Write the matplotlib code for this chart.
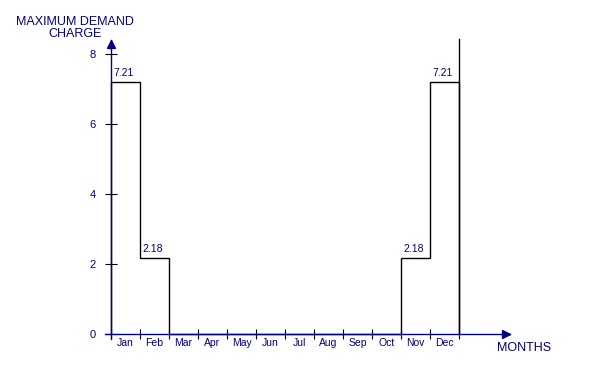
import matplotlib
matplotlib.use("Agg")
import matplotlib.pyplot as plt
import numpy as np

months = ["Jan", "Feb", "Mar", "Apr", "May", "Jun", "Jul", "Aug", "Sep", "Oct", "Nov", "Dec"]
charges = [7.21, 2.18, 0, 0, 0, 0, 0, 0, 0, 0, 2.18, 7.21]
yticks = [0, 2, 4, 6, 8]
y_title = "MAXIMUM DEMAND\nCHARGE"
x_title = "MONTHS"

NAVY = "#000080"
W, H = 600, 379
fig = plt.figure(figsize=(W / 100, H / 100), dpi=100)
plt.rcParams['font.family'] = ['Liberation Sans', 'DejaVu Sans']

# pixel geometry
x0, y0 = 111, 334        # origin
mw = 29                  # px per month
upy = 35                 # px per unit
xend, ytop = 510, 40
xmax = (xend - x0) / mw
ymax = (y0 - ytop) / upy

ax = fig.add_axes([x0 / W, 1 - y0 / H, (xend - x0) / W, (y0 - ytop) / H])
ax.set_xlim(0, xmax)
ax.set_ylim(0, ymax)
for s in ax.spines.values():
    s.set_visible(False)

n = len(months)
edges = np.arange(n + 1)
ax.stairs(charges, edges, baseline=0, color="black", lw=1.0, clip_on=False)
# right boundary line
ax.plot([n, n], [0, (y0 - 39) / upy], color="black", lw=1.0, clip_on=False)

# axes lines with arrows
ax.plot([-6 / mw, xmax], [0, 0], color=NAVY, lw=1.0, clip_on=False, zorder=5)
ax.plot([0, 0], [-5 / upy, ymax], color=NAVY, lw=1.0, clip_on=False, zorder=5)
ax.plot([xmax - 4 / mw], [0], marker=">", ms=6, color=NAVY, clip_on=False, zorder=6)
ax.plot([0], [ymax - 4 / upy], marker="^", ms=6, color=NAVY, clip_on=False, zorder=6)

# y ticks
ax.set_yticks(yticks)
ax.set_yticklabels([str(v) for v in yticks])
ax.tick_params(axis="y", direction="inout", length=8, width=0.8, color="black",
               labelcolor=NAVY, labelsize=8, pad=7)
# x ticks
ax.set_xticks(edges)
ax.set_xticklabels([])
ax.set_xticks(edges[:-1] + 0.5, minor=True)
ax.set_xticklabels(months, minor=True)
ax.tick_params(axis="x", which="major", direction="inout", length=7, width=0.8, color="black")
ax.tick_params(axis="x", which="minor", length=0, labelcolor=NAVY, labelsize=7.5, pad=3)

# value labels
for i, v in enumerate(charges):
    if v:
        ax.text(i + 0.1, v + 4 / upy, f"{v:.2f}", ha="left", va="bottom",
                color=NAVY, fontsize=7.5)

fig.text(75 / W, 1 - 28 / H, y_title, ha="center", va="center", color=NAVY,
         fontsize=9, linespacing=1.0)
fig.text(524 / W, 1 - 348 / H, x_title, ha="center", va="center", color=NAVY, fontsize=9)

fig.savefig("out.png", dpi=100)
